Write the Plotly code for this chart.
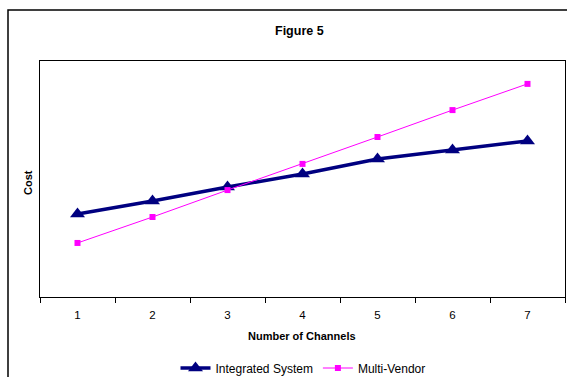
import plotly.graph_objects as go

channels = ["1", "2", "3", "4", "5", "6", "7"]
integrated_system = [35.2, 40.7, 46.6, 52.1, 58.5, 62.3, 66.1]
multi_vendor = [22.9, 33.9, 45.3, 56.4, 67.8, 79.2, 90.3]

W, H = 567, 392
# plot area in reference page pixels: x 40..565, y 61..297
L = 40
R = W - 565
T = 61
B = H - 297
pw = W - L - R
ph = H - T - B

def px(x):
    return (x - L) / pw

def py(y):
    return (H - B - y) / ph

fig = go.Figure()
fig.add_trace(go.Scatter(
    x=channels, y=integrated_system, name="Integrated System",
    mode="lines+markers",
    line=dict(color="#000080", width=3.5),
    marker=dict(symbol="triangle-up", size=13, color="#000080"),
))
fig.add_trace(go.Scatter(
    x=channels, y=multi_vendor, name="Multi-Vendor",
    mode="lines+markers",
    line=dict(color="#FF00FF", width=1),
    marker=dict(symbol="square", size=6, color="#FF00FF"),
))

font = "Liberation Sans, Arial, sans-serif"
fig.update_layout(
    width=W, height=H,
    margin=dict(l=L, r=R, t=T, b=B),
    paper_bgcolor="white", plot_bgcolor="white",
    font=dict(family=font, size=11, color="black"),
    showlegend=True,
    legend=dict(orientation="h", x=px(303), xanchor="center",
                y=py(368), yanchor="middle", font=dict(size=12),
                itemwidth=30, tracegroupgap=0),
    xaxis=dict(type="category", range=[-0.5, 6.5], showline=True, mirror=True,
               linecolor="black", linewidth=1, ticks="outside", tickson="boundaries",
               ticklen=5, tickcolor="black", showgrid=False, zeroline=False,
               ticklabelstandoff=7, tickfont=dict(size=11.5)),
    yaxis=dict(range=[0, 100], showline=True, mirror=True, linecolor="black",
               linewidth=1, showticklabels=False, ticks="", showgrid=False,
               zeroline=False),
    shapes=[dict(type="rect", xref="paper", yref="paper",
                 x0=px(8), y0=py(10), x1=px(620), y1=py(460),
                 line=dict(color="black", width=1.5), fillcolor="rgba(0,0,0,0)",
                 layer="below")],
    annotations=[
        dict(text="<b>Figure 5</b>", xref="paper", yref="paper", x=px(299), y=py(31),
             xanchor="center", yanchor="middle", showarrow=False, font=dict(size=12.5)),
        dict(text="<b>Number of Channels</b>", xref="paper", yref="paper", x=px(302), y=py(336),
             xanchor="center", yanchor="middle", showarrow=False, font=dict(size=11)),
        dict(text="<b>Cost</b>", xref="paper", yref="paper", x=px(28), y=py(183),
             xanchor="center", yanchor="middle", showarrow=False, textangle=-90,
             font=dict(size=11)),
    ],
)

fig.write_html(
    "out.html",
    config={"displayModeBar": False},
    post_script="document.body.style.margin='0';"
                "document.body.style.overflow='hidden';"
                "document.documentElement.style.overflow='hidden';",
)
